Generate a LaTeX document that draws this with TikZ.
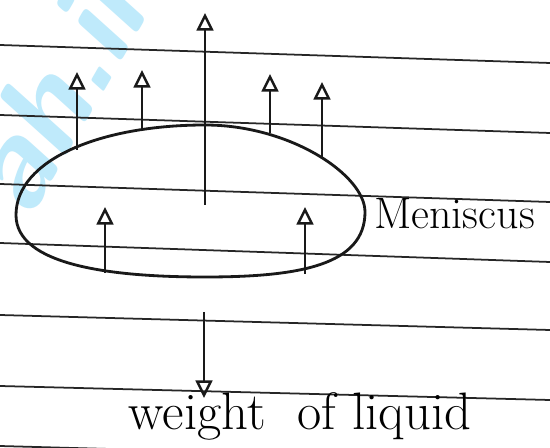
\documentclass[tikz,border=0pt]{standalone}
\usepackage{tikz}
\usetikzlibrary{arrows.meta,positioning,calc}
\tikzset{
  Rule/.style={draw=black!85, line width=1pt},
  Blob/.style={draw=black!90, line width=1.6pt},
  Farr/.style={-{Triangle[open,width=9.5pt,length=10pt,line width=1.4pt]}, line width=1.4pt, black!90},
  Hand/.style={font=\fontsize{25}{30}\selectfont, inner sep=0pt},
  Mark/.style={font=\fontsize{72}{72}\selectfont\sffamily\bfseries\itshape, text=cyan!25, inner sep=0pt}
}
\begin{document}
\begin{tikzpicture}[x=0.02cm, y=-0.02cm]
  \useasboundingbox (0,0) rectangle (550,448);
  \clip (0,0) rectangle (550,448);
  \fill[white] (0,0) rectangle (550,448);

  \node[Mark, rotate=60] (mark) at (62,78) {ah.in};

  % ruled paper
  \foreach \yl/\yr in {45/63, 115/133, 184/202, 243/262, 315/330, 386/400, 446/461}
    \draw[Rule] (0,\yl) -- (550,\yr);

  % meniscus outline
  \draw[Blob] (16,215) .. controls (16,160) and (100,125) .. (205,125)
    .. controls (290,125) and (365,175) .. (365,212)
    .. controls (365,265) and (300,277) .. (205,277)
    .. controls (110,277) and (16,265) .. (16,215);

  % force arrows
  \coordinate (c0) at (205,205);  \coordinate (c1) at (205,13);
  \coordinate (a0) at (77,150);   \coordinate (a1) at (77,72);
  \coordinate (b0) at (142,130);  \coordinate (b1) at (142,70);
  \coordinate (d0) at (270,133);  \coordinate (d1) at (270,74);
  \coordinate (e0) at (322,157);  \coordinate (e1) at (322,82);
  \coordinate (f0) at (105,273);  \coordinate (f1) at (105,207);
  \coordinate (g0) at (305,274);  \coordinate (g1) at (305,207);
  \coordinate (w0) at (204,312);  \coordinate (w1) at (204,398);

  \draw[Farr, line width=0.9pt] (c0) -- (c1);
  \draw[Farr] (a0) -- (a1);
  \draw[Farr] (b0) -- (b1);
  \draw[Farr] (d0) -- (d1);
  \draw[Farr] (e0) -- (e1);
  \draw[Farr] (f0) -- (f1);
  \draw[Farr] (g0) -- (g1);
  \draw[Farr, line width=0.9pt] (w0) -- (w1);

  \node[Hand, anchor=west] (men) at (374,214) {Meniscus};
  \node[Hand, font=\fontsize{30}{34}\selectfont] (wt) at (300,416) {weight\ \ of liquid};
\end{tikzpicture}
\end{document}
